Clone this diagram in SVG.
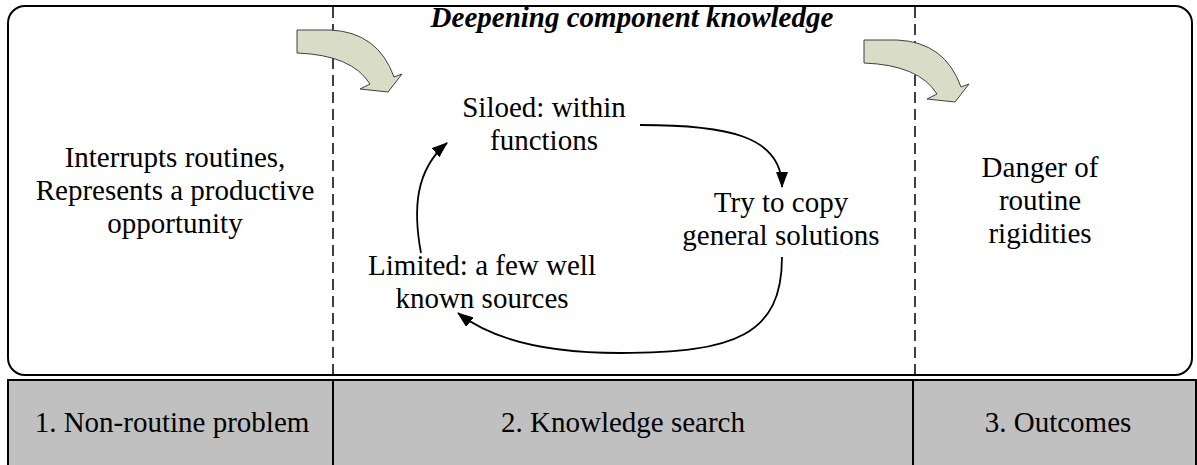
<svg xmlns="http://www.w3.org/2000/svg" width="1197" height="465" viewBox="0 0 1197 465">
<defs>
<style>
text{font-size:29px;fill:#000;text-anchor:middle}
.ti{font-weight:bold;font-style:italic}
.dash{stroke:#000;stroke-width:1.5;stroke-dasharray:11,6;fill:none}
.conn{stroke:#000;stroke-width:1.8;fill:none;marker-end:url(#ah)}
.blk{fill:#d9dcc6;stroke:#404040;stroke-width:1}
</style>
<marker id="ah" viewBox="0 0 16 12" refX="15" refY="6" markerWidth="16" markerHeight="12" markerUnits="userSpaceOnUse" orient="auto">
<path d="M0,0 L16,6 L0,12 Z" fill="#000"/>
</marker>
</defs>
<rect x="0" y="0" width="1197" height="465" fill="#fff"/>
<g id="frame">
<rect x="8" y="6" width="1184" height="369" rx="17" ry="17" fill="#fff" stroke="#000" stroke-width="2"/>
</g>
<g id="dividers">
<line class="dash" x1="333" y1="7" x2="333" y2="380"/>
<line class="dash" x1="915" y1="7" x2="915" y2="380"/>
</g>
<g id="table">
<rect x="8" y="380" width="1188" height="90" fill="#c0c0c0" stroke="#000" stroke-width="2"/>
<line x1="333" y1="380" x2="333" y2="465" stroke="#000" stroke-width="2"/>
<line x1="913" y1="380" x2="913" y2="465" stroke="#000" stroke-width="2"/>
</g>
<g id="block-arrow-1">
<path class="blk" d="M297,30 L330,30 Q378,32 394,77 L402,74 L388,92 L360,89 L370,84 Q352,55 297,53 Z"/>
</g>
<g id="block-arrow-2">
<path class="blk" d="M864,40 L897,40 Q945,42 961,87 L969,84 L955,102 L927,99 L937,94 Q919,65 864,63 Z"/>
</g>
<g id="title" font-family="Liberation Serif, Times New Roman, serif">
<text class="ti" x="632" y="27">Deepening component knowledge</text>
</g>
<g id="node-problem" font-family="Liberation Serif, Times New Roman, serif">
<text x="175" y="167">Interrupts routines,</text>
<text x="175" y="200">Represents a productive</text>
<text x="175" y="233">opportunity</text>
</g>
<g id="node-siloed" font-family="Liberation Serif, Times New Roman, serif">
<text x="544" y="117">Siloed: within</text>
<text x="544" y="150">functions</text>
</g>
<g id="node-copy" font-family="Liberation Serif, Times New Roman, serif">
<text x="781" y="212">Try to copy</text>
<text x="781" y="245">general solutions</text>
</g>
<g id="node-limited" font-family="Liberation Serif, Times New Roman, serif">
<text x="482" y="275">Limited: a few well</text>
<text x="482" y="308">known sources</text>
</g>
<g id="node-outcome" font-family="Liberation Serif, Times New Roman, serif">
<text x="1040" y="177">Danger of</text>
<text x="1040" y="210">routine</text>
<text x="1040" y="243">rigidities</text>
</g>
<g id="connectors">
<path class="conn" d="M640,125 C725,125 782,135 782,187"/>
<path class="conn" d="M782,257 C782,335 735,353 620,353 C540,353 490,338 458,313"/>
<path class="conn" d="M421,253 C413,210 415,170 447,143"/>
</g>
<g id="labels" font-family="Liberation Serif, Times New Roman, serif">
<text x="172" y="432">1. Non-routine problem</text>
<text x="623" y="432">2. Knowledge search</text>
<text x="1058" y="432">3. Outcomes</text>
</g>
</svg>
